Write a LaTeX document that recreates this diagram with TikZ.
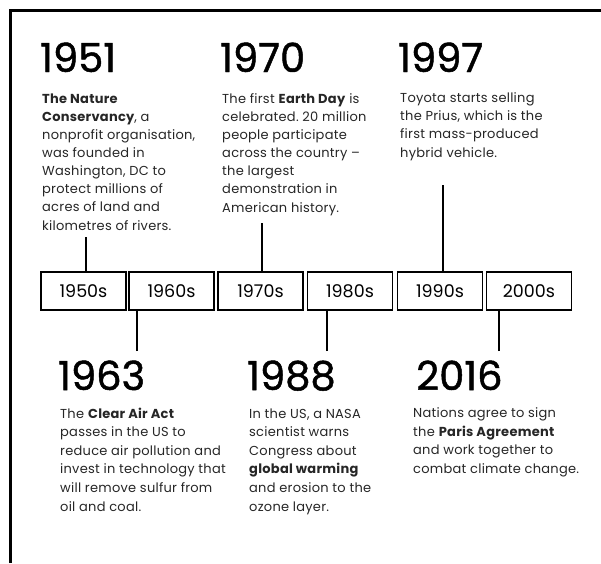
\documentclass[tikz,border=0pt]{standalone}
\usepackage{fontspec}
\setmainfont{Poppins}
\newfontfamily\yearfont[FakeBold=1.2]{Poppins}
\newfontfamily\bodyfont[LetterSpace=2]{Poppins}
\begin{document}
\frenchspacing
\begin{tikzpicture}[x=1pt,y=-1pt,
  decade/.style={draw, line width=1.6pt, minimum width=85pt, minimum height=38pt, inner sep=0pt, font=\fontsize{17.5}{17.5}\selectfont},
  year/.style={anchor=base west, inner sep=0pt, font=\yearfont\fontsize{40}{40}\selectfont},
  body/.style={anchor=base west, inner sep=0pt, align=left, text=black!85, font=\bodyfont\fontsize{13}{18.1}\selectfont},
  bodylow/.style={body, font=\bodyfont\fontsize{13}{18.6}\selectfont},
  conn/.style={line width=1.6pt}]
\useasboundingbox (0,0) rectangle (601,563);
\draw[line width=3pt] (10,563) -- (10,10) -- (601,10);
% decade boxes
\node[decade] (d50) at (83.5,291) {1950s};
\node[decade] (d60) at (171.5,291) {1960s};
\node[decade] (d70) at (260.5,291) {1970s};
\node[decade] (d80) at (350,291) {1980s};
\node[decade] (d90) at (440,291) {1990s};
\node[decade] (d00) at (529,291) {2000s};
% years top (body anchored at baseline of last line)
\node[year] (y51) at (40,72) {1951};
\node[body] (t51) at (42,230) {\textbf{The Nature}\\\textbf{Conservancy}, a\\nonprofit organisation,\\was founded in\\Washington, DC to\\protect millions of\\acres of land and\\kilometres of rivers.};
\node[year] (y70) at (220,72) {1970};
\node[body] (t70) at (222,212) {The first \textbf{Earth Day} is\\celebrated. 20 million\\people participate\\across the country –\\the largest\\demonstration in\\American history.};
\node[year] (y97) at (398,72) {1997};
\node[body] (t97) at (400,157) {Toyota starts selling\\the Prius, which is the\\first mass-produced\\hybrid vehicle.};
% years bottom
\node[year] (y63) at (58,390) {1963};
\node[bodylow] (t63) at (60,511) {The \textbf{Clear Air Act}\\passes in the US to\\reduce air pollution and\\invest in technology that\\will remove sulfur from\\oil and coal.};
\node[year] (y88) at (247,390) {1988};
\node[bodylow] (t88) at (249,511) {In the US, a NASA\\scientist warns\\Congress about\\\textbf{global warming}\\and erosion to the\\ozone layer.};
\node[year] (y16) at (416,390) {2016};
\node[bodylow] (t16) at (413,473.5) {Nations agree to sign\\the \textbf{Paris Agreement}\\and work together to\\combat climate change.};
% connectors
\coordinate (c51) at (86,237);
\coordinate (c70) at (262,223);
\coordinate (c97) at (443,185);
\coordinate (c63) at (137,351);
\coordinate (c88) at (327,351);
\coordinate (c16) at (499,351);
\draw[conn] (c51) -- (c51 |- d50.north);
\draw[conn] (c70) -- (c70 |- d70.north);
\draw[conn] (c97) -- (c97 |- d90.north);
\draw[conn] (c63) -- (c63 |- d60.south);
\draw[conn] (c88) -- (c88 |- d80.south);
\draw[conn] (c16) -- (c16 |- d00.south);
\end{tikzpicture}
\end{document}
